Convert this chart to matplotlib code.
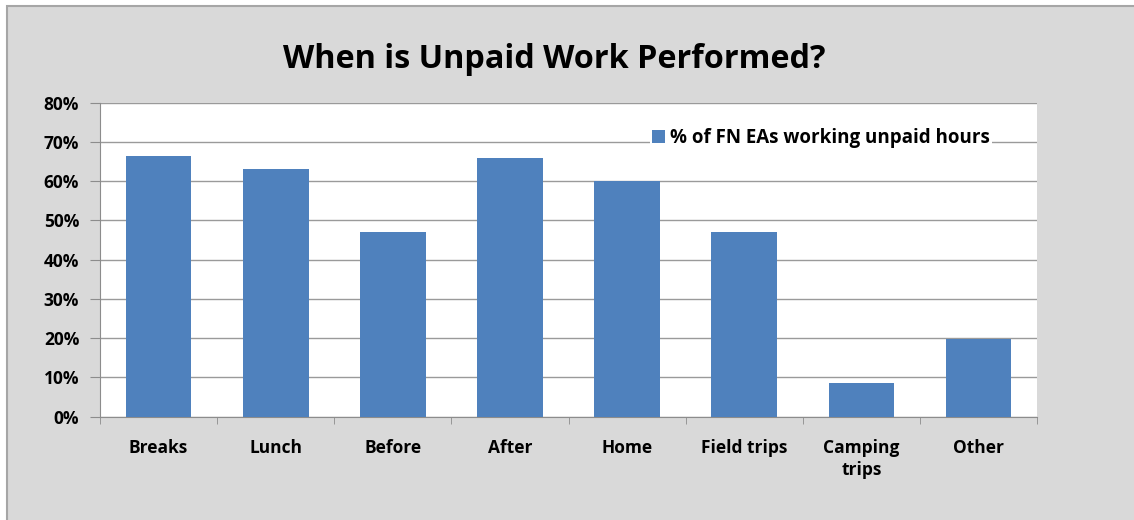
import matplotlib.pyplot as plt
from matplotlib.patches import Rectangle
from matplotlib.ticker import PercentFormatter
import numpy as np

plt.rcParams['font.family'] = ['Open Sans', 'DejaVu Sans']

# data
categories = ['Breaks', 'Lunch', 'Before', 'After', 'Home', 'Field trips', 'Camping\ntrips', 'Other']
pct_unpaid = [66.4, 63.0, 47.0, 65.9, 60.0, 47.0, 8.7, 19.8]
series_name = '% of FN EAs working unpaid hours'
yticks = [0, 10, 20, 30, 40, 50, 60, 70, 80]

fig = plt.figure(figsize=(11.34, 5.2), dpi=100)
fig.patch.set_facecolor('white')
# gray chart frame, cut at right/bottom like the screenshot
fig.patches.append(Rectangle((7 / 1134, -0.05), 1.2, 1 - 6 / 520 + 0.05,
                             transform=fig.transFigure, facecolor='#d9d9d9',
                             edgecolor='#a6a6a6', linewidth=1.5, zorder=-10))

ax = fig.add_axes([0.0882, 0.1987, 0.8263, 0.6038])
ax.set_facecolor('white')
x = np.arange(len(categories))
ax.bar(x, pct_unpaid, width=0.56, color='#4f81bd', label=series_name, zorder=3)

ax.set_xlim(-0.5, len(categories) - 0.5)
ax.set_ylim(0, 80)
ax.set_yticks(yticks)
ax.yaxis.set_major_formatter(PercentFormatter(decimals=0))
ax.grid(axis='y', color='#9a9a9a', linewidth=1, zorder=0)

ax.set_xticks(x)
ax.set_xticklabels(categories, fontsize=12.5, fontweight='bold', linespacing=1.3)
ax.set_xticks(np.arange(-0.5, len(categories)), minor=True)
ax.tick_params(axis='x', which='major', length=0, pad=16)
ax.tick_params(axis='x', which='minor', length=5, color='#8c8c8c')
ax.tick_params(axis='y', length=7, color='#8c8c8c', labelsize=12.5, pad=8)
for lbl in ax.get_yticklabels():
    lbl.set_fontweight('bold')

for s in ['top', 'right']:
    ax.spines[s].set_visible(False)
for s in ['left', 'bottom']:
    ax.spines[s].set_color('#8c8c8c')

fig.text(0.489, 0.886, 'When is Unpaid Work Performed?', ha='center', va='center',
         fontsize=23.3, fontweight='bold')

leg = ax.legend(loc='center', bbox_to_anchor=(0.724, 0.735), frameon=True,
                fancybox=False, edgecolor='none', facecolor='white', framealpha=1,
                handlelength=0.7, handleheight=0.7, handletextpad=0.3,
                borderpad=0.1, borderaxespad=0, prop={'weight': 'bold', 'size': 13.5},
                bbox_transform=fig.transFigure)

fig.savefig('out.png', dpi=100)
